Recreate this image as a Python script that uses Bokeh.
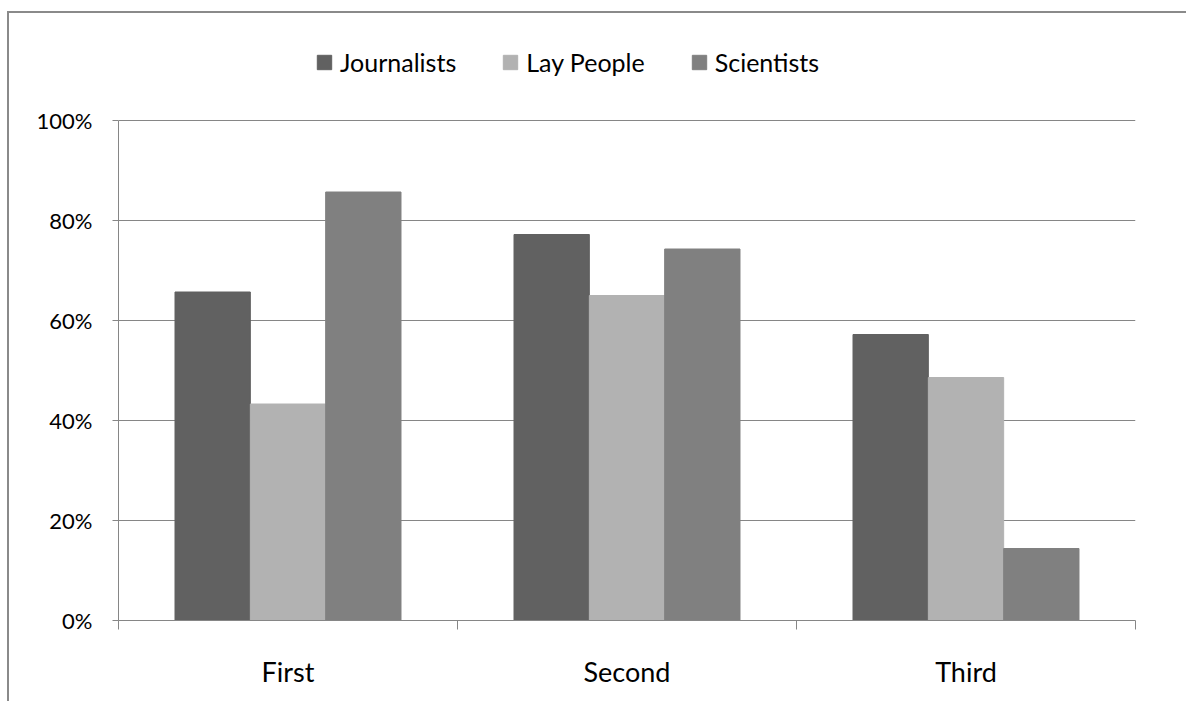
from bokeh.plotting import figure
from bokeh.models import (Range1d, LinearAxis, FixedTicker,
                          NumeralTickFormatter, Legend, LegendItem, ColumnDataSource)
from bokeh.transform import dodge
from bokeh.embed import file_html
from bokeh.resources import INLINE

categories = ["First", "Second", "Third"]
series = ["Journalists", "Lay People", "Scientists"]
journalists = [0.657, 0.772, 0.572]
lay_people = [0.433, 0.650, 0.486]
scientists = [0.857, 0.743, 0.144]
y_ticks = [0, 0.2, 0.4, 0.6, 0.8, 1.0]

colors = ["#616161", "#b2b2b2", "#808080"]
FONT = "Lato"
GRID = "#868686"

centers = [i + 0.5 for i in range(len(categories))]
bounds = list(range(len(categories) + 1))
src = ColumnDataSource(dict(cx=centers, j=journalists, l=lay_people, s=scientists))

# frame extends above 100% to hold the legend (axis and grid bounded to 0..100%)
p = figure(width=1179, height=690, output_backend="svg", toolbar_location=None,
           x_range=Range1d(0, len(categories)), y_range=Range1d(0, 1.214),
           x_axis_location=None, y_axis_location=None,
           min_border_left=109, min_border_right=53, min_border_top=0, min_border_bottom=83)
p.outline_line_color = None
p.background_fill_color = "white"
p.border_fill_color = "white"
p.styles = {"border-top": "2px solid #8a8a8a", "border-left": "2px solid #8a8a8a",
            "margin-left": "7px", "margin-top": "11px"}

bw = 0.2222
r1 = p.vbar(x=dodge("cx", -bw), top="j", width=bw, source=src,
            fill_color=colors[0], line_color=colors[0])
r2 = p.vbar(x=dodge("cx", 0), top="l", width=bw, source=src,
            fill_color=colors[1], line_color=colors[1])
r3 = p.vbar(x=dodge("cx", bw), top="s", width=bw, source=src,
            fill_color=colors[2], line_color=colors[2])

# y axis
yax = LinearAxis(ticker=FixedTicker(ticks=y_ticks), formatter=NumeralTickFormatter(format="0%"))
yax.bounds = (0, 1)
yax.axis_line_color = GRID
yax.major_tick_line_color = GRID
yax.major_tick_out = 6
yax.major_tick_in = 0
yax.minor_tick_line_color = None
yax.major_label_standoff = 20
yax.major_label_text_font = FONT
yax.major_label_text_font_size = "22px"
yax.major_label_text_color = "black"
p.add_layout(yax, "left")

# boundary tick axis
tax = LinearAxis(ticker=FixedTicker(ticks=bounds))
tax.axis_line_color = GRID
tax.major_tick_line_color = GRID
tax.major_tick_out = 9
tax.major_tick_in = 0
tax.minor_tick_line_color = None
tax.major_label_overrides = {b: "" for b in bounds}
tax.major_label_text_font_size = "1px"
tax.major_label_standoff = 0
p.add_layout(tax, "below")

# category label axis
cax = LinearAxis(ticker=FixedTicker(ticks=centers))
cax.major_label_overrides = {c: name for c, name in zip(centers, categories)}
cax.axis_line_color = None
cax.major_tick_line_color = None
cax.minor_tick_line_color = None
cax.major_tick_out = 0
cax.major_tick_in = 0
cax.major_label_standoff = 25
cax.major_label_text_font = FONT
cax.major_label_text_font_size = "27px"
cax.major_label_text_color = "black"
p.add_layout(cax, "below")

p.ygrid.ticker = FixedTicker(ticks=y_ticks)
p.ygrid.grid_line_color = GRID
p.xgrid.visible = False

legend = Legend(items=[LegendItem(label=series[0], renderers=[r1]),
                       LegendItem(label=series[1], renderers=[r2]),
                       LegendItem(label=series[2], renderers=[r3])],
                orientation="horizontal", location=(197, 543))
legend.border_line_color = None
legend.background_fill_alpha = 0
legend.padding = 0
legend.margin = 0
legend.spacing = 45
legend.glyph_width = 18
legend.glyph_height = 18
legend.label_standoff = 7
legend.label_text_font = FONT
legend.label_text_font_size = "25px"
legend.label_text_color = "black"
p.add_layout(legend, "center")

open("out.html", "w").write(file_html(p, INLINE))
